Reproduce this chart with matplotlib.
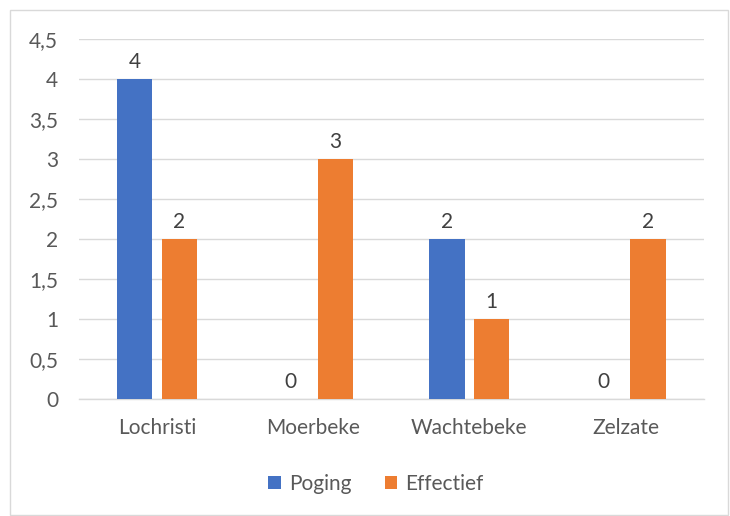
import matplotlib
matplotlib.use("Agg")
import matplotlib.pyplot as plt
from matplotlib.patches import Rectangle
import numpy as np

plt.rcParams["font.family"] = ["Lato", "DejaVu Sans"]

categories = ["Lochristi", "Moerbeke", "Wachtebeke", "Zelzate"]
poging = [4, 0, 2, 0]
effectief = [2, 3, 1, 2]
yticks = [0, 0.5, 1, 1.5, 2, 2.5, 3, 3.5, 4, 4.5]
ytick_labels = ["0", "0,5", "1", "1,5", "2", "2,5", "3", "3,5", "4", "4,5"]

blue = "#4472C4"
orange = "#ED7D31"
text_col = "#595959"
grid_col = "#D9D9D9"
fs = 15

fig = plt.figure(figsize=(7.3, 5.16), dpi=100)
ax = fig.add_axes([0.108, 0.2267, 0.856, 0.6977])

x = np.arange(len(categories))
w = 0.225
off = 0.143
b1 = ax.bar(x - off, poging, w, color=blue, label="Poging", zorder=3)
b2 = ax.bar(x + off, effectief, w, color=orange, label="Effectief", zorder=3)

for bars in (b1, b2):
    ax.bar_label(bars, labels=[str(int(v)) for v in bars.datavalues],
                 padding=5, fontsize=fs, color="#404040")

ax.set_xlim(-0.5, len(categories) - 0.5)
ax.set_ylim(0, 4.5)
ax.set_yticks(yticks)
ax.set_yticklabels(ytick_labels)
ax.set_xticks(x)
ax.set_xticklabels(categories)
ax.tick_params(axis="both", length=0, labelsize=fs, colors=text_col)
ax.tick_params(axis="y", pad=15)
ax.tick_params(axis="x", pad=14)
ax.yaxis.grid(True, color=grid_col, linewidth=1, zorder=0)
for s in ["top", "right", "left"]:
    ax.spines[s].set_visible(False)
ax.spines["bottom"].set_color(grid_col)
ax.spines["bottom"].set_linewidth(1)

leg = fig.legend(handles=[b1, b2], loc="center", bbox_to_anchor=(0.515, 0.062),
                 ncol=2, frameon=False, fontsize=fs, handlelength=0.6,
                 handleheight=0.6, handletextpad=0.4, columnspacing=1.6)
for t in leg.get_texts():
    t.set_color(text_col)

# chart border
fig.patches.append(Rectangle((10 / 730, 1 / 516), 718 / 730, 505 / 516,
                             transform=fig.transFigure, fill=False,
                             edgecolor="#D9D9D9", linewidth=1))

fig.savefig("out.png", dpi=100)
